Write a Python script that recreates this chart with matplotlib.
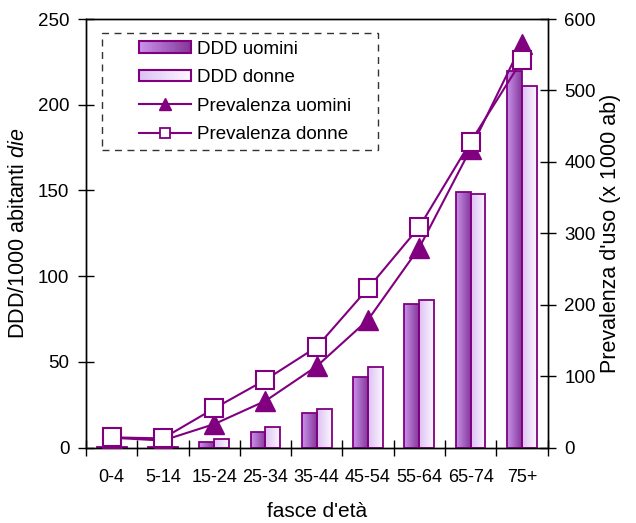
import numpy as np
import matplotlib
matplotlib.use('Agg')
import matplotlib.pyplot as plt
from matplotlib.colors import LinearSegmentedColormap
from matplotlib.patches import Rectangle
from matplotlib.lines import Line2D
from matplotlib.legend_handler import HandlerBase

plt.rcParams['font.family'] = ['Liberation Sans', 'DejaVu Sans']
plt.rcParams['mathtext.fontset'] = 'custom'
plt.rcParams['mathtext.rm'] = 'Liberation Sans'
plt.rcParams['mathtext.it'] = 'Liberation Sans:italic'

# Dati per fasce d'età
fasce = ['0-4', '5-14', '15-24', '25-34', '35-44', '45-54', '55-64', '65-74', '75+']
ddd_uomini = [0.6, 0.6, 3.5, 9.3, 20.0, 41.0, 84.0, 149.0, 219.4]
ddd_donne = [0.5, 0.5, 4.9, 11.9, 22.4, 46.9, 86.2, 148.2, 211.0]
prev_uomini = [14, 10, 33, 65.5, 114, 179, 280, 418, 565]
prev_donne = [14.5, 13, 55, 95, 141, 223, 309, 428, 542]

VIOLA = '#800080'
grad_uomini = ['#c892ea', '#86389a']
grad_donne = ['#dcc2f3', '#fbf6ff']

fig = plt.figure(figsize=(6.36, 5.23), dpi=100)
ax = fig.add_axes([86 / 636, 1 - 447.7 / 523, (547.5 - 86) / 636, (447.7 - 19) / 523])
ax2 = ax.twinx()

x = np.arange(len(fasce))
w = 0.29


def barre_sfumate(ax, xs, vals, colori):
    cmap = LinearSegmentedColormap.from_list('sf', colori)
    grad = np.linspace(0, 1, 64).reshape(1, -1)
    bars = ax.bar(xs, vals, w, facecolor='none', edgecolor=VIOLA, linewidth=1.3, zorder=3)
    for b in bars:
        im = ax.imshow(grad, cmap=cmap, aspect='auto', zorder=2,
                       extent=(b.get_x(), b.get_x() + b.get_width(), 0, b.get_height()))
        im.set_clip_path(b)
    return bars


barre_sfumate(ax, x - w / 2, ddd_uomini, grad_uomini)
barre_sfumate(ax, x + w / 2, ddd_donne, grad_donne)

ax.set_xlim(-0.5, len(fasce) - 0.5)
ax.set_ylim(0, 250)
ax.set_yticks(np.arange(0, 251, 50))
ax.set_xticks(x)
ax.set_xticklabels(fasce, fontsize=13)
ax.set_xticks(np.arange(len(fasce) + 1) - 0.5, minor=True)
ax.tick_params(axis='x', which='major', length=0, pad=15)
ax.tick_params(axis='x', which='minor', direction='inout', length=12, width=1)
ax.tick_params(axis='y', direction='inout', length=12, width=1, labelsize=13.5, pad=6)
ax.set_xlabel("fasce d'età", fontsize=15, labelpad=12)
ax.set_ylabel(r'DDD/1000 abitanti $\it{die}$', fontsize=15.5, labelpad=6)

ax2.plot(x, prev_uomini, color=VIOLA, lw=1.5, marker='^', ms=14,
         mfc=VIOLA, mec=VIOLA, zorder=4)
ax2.plot(x, prev_donne, color=VIOLA, lw=1.5, marker='s', ms=12.5,
         mfc='white', mec=VIOLA, mew=1.5, zorder=5)
ax2.set_ylim(0, 600)
ax2.set_yticks(np.arange(0, 601, 100))
ax2.tick_params(axis='y', direction='inout', length=12, width=1, labelsize=13.5, pad=6)
ax2.set_ylabel("Prevalenza d'uso (x 1000 ab)", fontsize=15.5, labelpad=3)

for a in (ax, ax2):
    for s in a.spines.values():
        s.set_linewidth(1)


class SfumaturaHandler(HandlerBase):
    def __init__(self, colori):
        super().__init__()
        self.cmap = LinearSegmentedColormap.from_list('leg', colori)

    def create_artists(self, legend, orig_handle, xdescent, ydescent,
                       width, height, fontsize, trans):
        n = 40
        arts = []
        for i in range(n):
            r = Rectangle((-xdescent + i * width / n, -ydescent), width / n * 1.2, height,
                          facecolor=self.cmap(i / (n - 1)), edgecolor='none',
                          antialiased=False, transform=trans)
            arts.append(r)
        arts.append(Rectangle((-xdescent, -ydescent), width, height, facecolor='none',
                              edgecolor=VIOLA, lw=1.5, transform=trans))
        return arts


h_uom = Rectangle((0, 0), 1, 1)
h_don = Rectangle((0, 0), 1, 1)
h_pu = Line2D([], [], color=VIOLA, lw=1.5, marker='^', ms=9, mfc=VIOLA, mec=VIOLA)
h_pd = Line2D([], [], color=VIOLA, lw=1.5, marker='s', ms=6.5, mfc='white', mec=VIOLA, mew=1.3)

leg = ax2.legend([h_uom, h_don, h_pu, h_pd],
                 ['DDD uomini', 'DDD donne', 'Prevalenza uomini', 'Prevalenza donne'],
                 handler_map={h_uom: SfumaturaHandler(grad_uomini),
                              h_don: SfumaturaHandler(grad_donne)},
                 loc='upper left', bbox_to_anchor=(139 / 636, 1 - 40.5 / 523),
                 bbox_transform=fig.transFigure, frameon=False, fontsize=13.5,
                 borderpad=0, borderaxespad=0, handlelength=2.75, handleheight=0.6,
                 handletextpad=0.35, labelspacing=0.62)

# cornice tratteggiata della legenda
cornice = Rectangle((101.7 / 636, 1 - 150 / 523), (378.3 - 101.7) / 636, (150 - 33) / 523,
                    transform=fig.transFigure, facecolor='none', edgecolor='#333333',
                    lw=1, linestyle=(0, (5, 4)), clip_on=False, zorder=6)
ax2.add_artist(cornice)

fig.savefig('out.png', dpi=100)
